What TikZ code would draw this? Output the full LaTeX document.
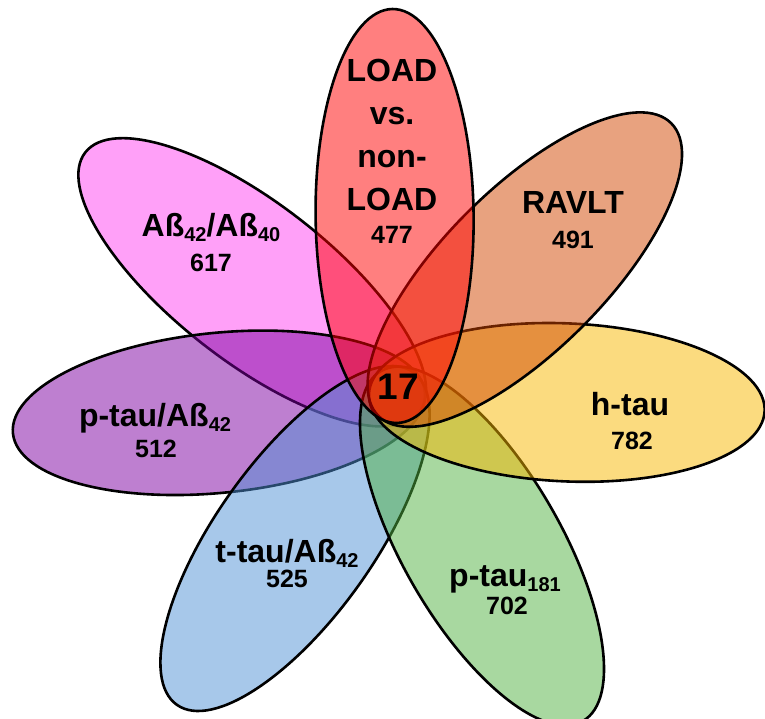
\documentclass[tikz,border=0pt]{standalone}
\usepackage{fontspec}
\setmainfont{Liberation Sans}
\definecolor{cMag}{RGB}{255,65,241}
\definecolor{cPur}{RGB}{125,0,161}
\definecolor{cBlu}{RGB}{79,145,213}
\definecolor{cGrn}{RGB}{81,177,65}
\definecolor{cYel}{RGB}{247,183,0}
\definecolor{cOra}{RGB}{209,69,0}
\definecolor{cRed}{RGB}{255,0,0}
% lowered small digits for the subscripts
\newcommand\lowsub[1]{\raisebox{-5pt}{\fontsize{20}{20}\selectfont #1}}
\begin{document}
\begin{tikzpicture}[x=1pt,y=-1pt,
  petal/.style={draw=black, line width=2.6pt, fill opacity=0.5},
  lbl/.style={font=\bfseries\fontsize{32}{43}\selectfont, align=center, inner sep=0pt},
  cnt/.style={font=\bfseries\fontsize{25}{25}\selectfont, inner sep=0pt}]
\useasboundingbox (0,0) rectangle (765,719);

% seven petals, drawn from the back layer to the front
\filldraw[petal, fill=cMag, shift={(252.2,282.3)}, rotate=142.1] (0,0) ellipse (211.5pt and 79pt);
\filldraw[petal, fill=cPur, shift={(218.9,412.8)}, rotate=185.7] (0,0) ellipse (207pt and 80pt);
\filldraw[petal, fill=cBlu, shift={(295.0,538.5)}, rotate=-125.4] (0,0) ellipse (204pt and 79pt);
\filldraw[petal, fill=cGrn, shift={(482.0,546.0)}, rotate=-60.0] (0,0) ellipse (202pt and 79pt);
\filldraw[petal, fill=cYel, shift={(566.8,402.4)}, rotate=-2.5] (0,0) ellipse (198pt and 79pt);
\filldraw[petal, fill=cOra, shift={(524.8,269.6)}, rotate=45] (0,0) ellipse (207pt and 81pt);
\filldraw[petal, fill=cRed, shift={(394.6,216.0)}, rotate=90.6] (0,0) ellipse (207pt and 79pt);

% set names and counts
\node[lbl] (load) at (392,135) {LOAD\\vs.\\non-\\LOAD};
\node[cnt] (nload) at (392,235) {477};
\node[lbl] (ravlt) at (573,202) {RAVLT};
\node[cnt] (nravlt) at (573,240) {491};
\node[lbl] (abr) at (211,228) {Aß\lowsub{42}/Aß\lowsub{40}};
\node[cnt] (nabr) at (211,263) {617};
\node[lbl] (ptab) at (155,418) {p-tau/Aß\lowsub{42}};
\node[cnt] (nptab) at (156,449) {512};
\node[lbl] (htau) at (630,404) {h-tau};
\node[cnt] (nhtau) at (632,441) {782};
\node[lbl] (ttab) at (287,553) {t-tau/Aß\lowsub{42}};
\node[cnt] (nttab) at (287,579) {525};
\node[lbl] (ptau) at (505,579) {p-tau\lowsub{181}};
\node[cnt] (nptau) at (507,606) {702};
\node[font=\bfseries\fontsize{37}{37}\selectfont, inner sep=0pt] (core) at (398,387) {17};
\end{tikzpicture}
\end{document}
